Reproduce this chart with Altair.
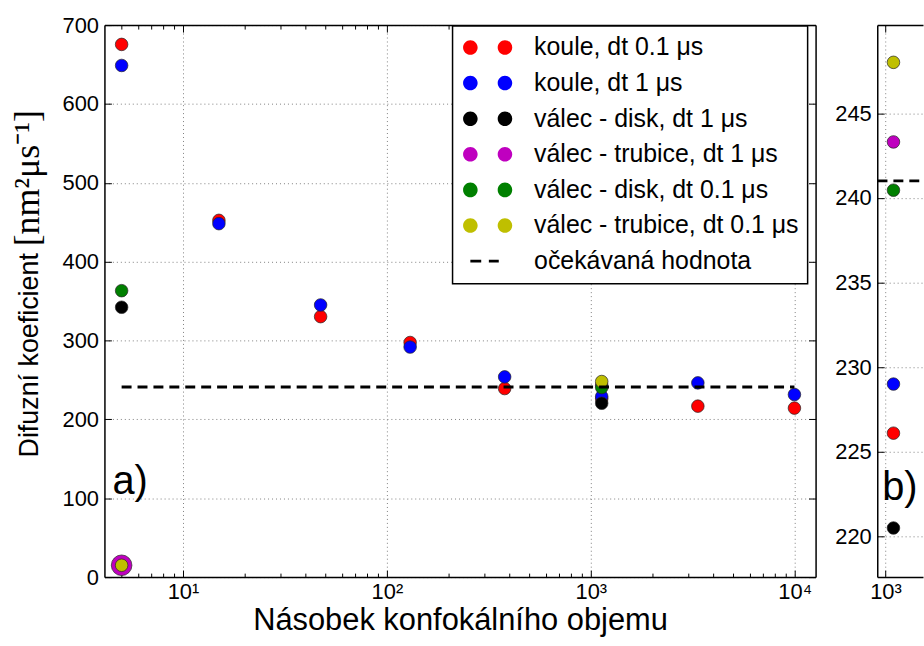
import json
import altair as alt
import pandas as pd

FONT = "Liberation Sans"

# ---- data -------------------------------------------------------------
series_names = [
    "koule, dt 0.1 μs",
    "koule, dt 1 μs",
    "válec - disk, dt 1 μs",
    "válec - trubice, dt 1 μs",
    "válec - disk, dt 0.1 μs",
    "válec - trubice, dt 0.1 μs",
]
series_colors = ["#ff0000", "#0000ff", "#000000", "#bf00bf", "#008000", "#bfbf00"]
expected_name = "očekávaná hodnota"

# multiples of the confocal volume
vol_sphere = [5, 15, 47.3, 130, 378, 1131, 3350, 9970]
vol_cylinder = [5, 1131]

# diffusion coefficient [nm^2/us]
D_sphere_01 = [675.5, 452.4, 330.3, 297.5, 239.1, 226.1, 216.8, 214.3]
D_sphere_1 = [648.8, 448.2, 345.1, 291.7, 253.9, 229.0, 246.3, 231.5]
D_disk_1 = [342.2, 220.5]
D_tube_1 = [15.0, 243.3]
D_disk_01 = [363.2, 240.45]
D_tube_01 = [15.0, 248.0]

D_expected = 241.0

x_major = [10, 100, 1000, 10000]
y_ticks_a = [0, 100, 200, 300, 400, 500, 600, 700]
y_ticks_b = [220, 225, 230, 235, 240, 245]

# ---- tables -----------------------------------------------------------
rows = []
for name, xs, ds in zip(
    series_names,
    [vol_sphere, vol_sphere, vol_cylinder, vol_cylinder, vol_cylinder, vol_cylinder],
    [D_sphere_01, D_sphere_1, D_disk_1, D_tube_1, D_disk_01, D_tube_01],
):
    for xv, dv in zip(xs, ds):
        rows.append({"V": xv, "D": dv, "serie": name})
df = pd.DataFrame(rows)

ref_df = pd.DataFrame([{"V1": vol_sphere[0], "V2": vol_sphere[-1], "D": D_expected}])
one_row = alt.Data(values=[{"k": 0}])
no_rows = alt.Data(values=[])

x_minor = [m * 10 ** e for e in range(0, 4) for m in range(2, 10)
           if 4.2 < m * 10 ** e < 12600]

# ---- geometry / scales ------------------------------------------------
W_A, W_B, H = 715, 46, 555

xa_scale = alt.Scale(type="log", domain=[4.118, 12660], nice=False)
ya_scale = alt.Scale(domain=[0, 700], nice=False, zero=False)
xb_scale = alt.Scale(type="log", domain=[880, 1787], nice=False)
yb_scale = alt.Scale(domain=[217.6, 250.2], nice=False, zero=False)
legend_domain = series_names + [expected_name]
color_scale = alt.Scale(domain=legend_domain, range=series_colors + ["#000000"])

SUP = "['⁰','¹','²','³','⁴','⁵']"
pow_label = "'10' + " + SUP + "[round(log(datum.value) / LN10)]"


def circle_path(cx, r):
    k = round(0.5523 * r, 4)
    return (f"M{cx + r},0 C{cx + r},{k} {cx + k},{r} {cx},{r} "
            f"C{cx - k},{r} {cx - r},{k} {cx - r},0 "
            f"C{cx - r},{-k} {cx - k},{-r} {cx},{-r} "
            f"C{cx + k},{-r} {cx + r},{-k} {cx + r},0 Z")


def bar_path(x0, x1, h):
    return f"M{x0},{-h} L{x1},{-h} L{x1},{h} L{x0},{h} Z"


# legend handles (unit = half the symbol box): two markers per entry,
# two dashes for the reference line
TWO_DOTS = circle_path(-0.30, 0.61) + " " + circle_path(2.60, 0.61)
DASHES = bar_path(-0.30, 0.61, 0.11) + " " + bar_path(1.25, 2.08, 0.11)
shape_scale = alt.Scale(domain=legend_domain, range=[TWO_DOTS] * 6 + [DASHES])


def edge_axis(orient, offset, values, size, domain=True):
    return alt.Axis(orient=orient, offset=offset, values=values, ticks=True,
                    tickSize=size, tickWidth=1, tickColor="black", labels=False,
                    grid=False, domain=domain, domainColor="black",
                    domainWidth=1.5, title=None)


legend_a = alt.Legend(
    title=None, orient="none", legendX=350, legendY=1, direction="vertical",
    labelFont=FONT, labelFontSize=25, labelColor="black", labelLimit=600,
    labelOffset=48, symbolSize=576, rowPadding=9.8, padding=9,
    strokeColor="black", fillColor="white",
    symbolStrokeColor="#262626", symbolStrokeWidth=0.7, symbolOpacity=1,
)

tube_big = (f"datum.serie === {json.dumps(series_names[3])} && datum.V < 10")

# ---- panel a) ---------------------------------------------------------
pts_a = alt.Chart(df).mark_circle(opacity=1, stroke="#262626", strokeWidth=0.7).encode(
    x=alt.X("V:Q", scale=xa_scale, axis=alt.Axis(
        orient="bottom", values=x_major, labelExpr=pow_label, grid=True,
        ticks=False, tickSize=0, domain=False, labelPadding=5,
        title="Násobek konfokálního objemu", titlePadding=3)),
    y=alt.Y("D:Q", scale=ya_scale, axis=alt.Axis(
        orient="left", values=y_ticks_a, grid=True, ticks=False, tickSize=0,
        domain=False, labelPadding=6, title=None)),
    color=alt.Color("serie:N", scale=color_scale, legend=legend_a),
    size=alt.condition(tube_big, alt.value(430), alt.value(160)),
)

# legend-only layer (no rows): supplies the legend symbol shapes
key_a = alt.Chart(no_rows).mark_point(
    filled=True, opacity=1, stroke="#262626", strokeWidth=0.7
).encode(
    color=alt.Color("serie:N", scale=color_scale, legend=legend_a),
    shape=alt.Shape("serie:N", scale=shape_scale, legend=legend_a),
)

ref_a = alt.Chart(ref_df).mark_rule(color="black", strokeWidth=3, strokeDash=[10, 6]).encode(
    x=alt.X("V1:Q", scale=xa_scale, axis=edge_axis("bottom", -H, x_major, 7)),
    x2="V2:Q",
    y=alt.Y("D:Q", scale=ya_scale, axis=edge_axis("right", -W_A, y_ticks_a, 7)),
)

frame_a1 = alt.Chart(df).mark_point(opacity=0).encode(
    x=alt.X("V:Q", scale=xa_scale, axis=edge_axis("top", -H, x_major, 7)),
    y=alt.Y("D:Q", scale=ya_scale, axis=edge_axis("left", -W_A, y_ticks_a, 7)),
)
frame_a2 = alt.Chart(df).mark_point(opacity=0).encode(
    x=alt.X("V:Q", scale=xa_scale, axis=edge_axis("bottom", -H, x_minor, 4, False)),
)
frame_a3 = alt.Chart(df).mark_point(opacity=0).encode(
    x=alt.X("V:Q", scale=xa_scale, axis=edge_axis("top", -H, x_minor, 4, False)),
)

tag_a = alt.Chart(one_row).mark_text(
    text="a)", font=FONT, fontSize=40, align="left", baseline="alphabetic",
    color="black").encode(x=alt.value(8), y=alt.value(471))

ytitle_text = alt.Chart(one_row).mark_text(
    text="Difuzní koeficient", font=FONT, fontSize=27, angle=270,
    align="center", baseline="alphabetic", color="black"
).encode(x=alt.value(-67), y=alt.value(332))
ytitle_unit = alt.Chart(one_row).mark_text(
    text="[nm²μs⁻¹]", font="Liberation Serif", fontSize=36, angle=270,
    align="center", baseline="alphabetic", color="black"
).encode(x=alt.value(-66), y=alt.value(154))

panel_a = alt.layer(
    pts_a, key_a, ref_a, frame_a1, frame_a2, frame_a3, tag_a, ytitle_text, ytitle_unit
).resolve_axis(x="independent", y="independent").properties(width=W_A, height=H)

# ---- panel b) (zoom on the 10^3 cluster) --------------------------------
df_b = df[(df["V"] > 880) & (df["V"] < 1787)]

pts_b = alt.Chart(df_b).mark_circle(opacity=1, stroke="#262626", strokeWidth=0.7,
                                    clip=True).encode(
    x=alt.X("V:Q", scale=xb_scale, axis=alt.Axis(
        orient="bottom", values=[1000], labelExpr=pow_label, grid=True,
        ticks=False, tickSize=0, domain=False, labelPadding=5, title=None)),
    y=alt.Y("D:Q", scale=yb_scale, axis=alt.Axis(
        orient="left", values=y_ticks_b, grid=True, ticks=False, tickSize=0,
        domain=False, labelPadding=6, title=None)),
    color=alt.Color("serie:N", scale=color_scale, legend=None),
    size=alt.value(160),
)

ref_b = alt.Chart(ref_df).mark_rule(color="black", strokeWidth=3, strokeDash=[10, 6],
                                    clip=True).encode(
    x=alt.X("V1:Q", scale=xb_scale, axis=edge_axis("bottom", -H, [1000], 7)),
    x2="V2:Q",
    y=alt.Y("D:Q", scale=yb_scale, axis=edge_axis("right", -W_B, y_ticks_b, 7)),
)

frame_b1 = alt.Chart(df_b).mark_point(opacity=0, clip=True).encode(
    x=alt.X("V:Q", scale=xb_scale, axis=edge_axis("top", -H, [1000], 7)),
)

tag_b = alt.Chart(one_row).mark_text(
    text="b)", font=FONT, fontSize=40, align="left", baseline="alphabetic",
    color="black").encode(x=alt.value(5), y=alt.value(477))

panel_b = alt.layer(pts_b, ref_b, frame_b1, tag_b).resolve_axis(
    x="independent", y="independent").properties(width=W_B, height=H)

# ---- figure -------------------------------------------------------------
chart = (
    alt.hconcat(panel_a, panel_b, spacing=17)
    .resolve_scale(x="independent", y="independent", color="independent",
                   shape="independent")
    .properties(padding={"left": 9, "top": 11.5, "right": 0, "bottom": 0},
                background="white")
    .configure_view(stroke="transparent")
    .configure_axis(
        labelFont=FONT, labelFontSize=22, labelColor="black",
        titleFont=FONT, titleFontSize=31, titleFontWeight="normal",
        titleColor="black", gridColor="#808080", gridDash=[1, 3], gridWidth=1,
    )
    .configure_legend(strokeWidth=1.5)
)

chart.save("out.html", embed_options={"renderer": "svg", "actions": False})
